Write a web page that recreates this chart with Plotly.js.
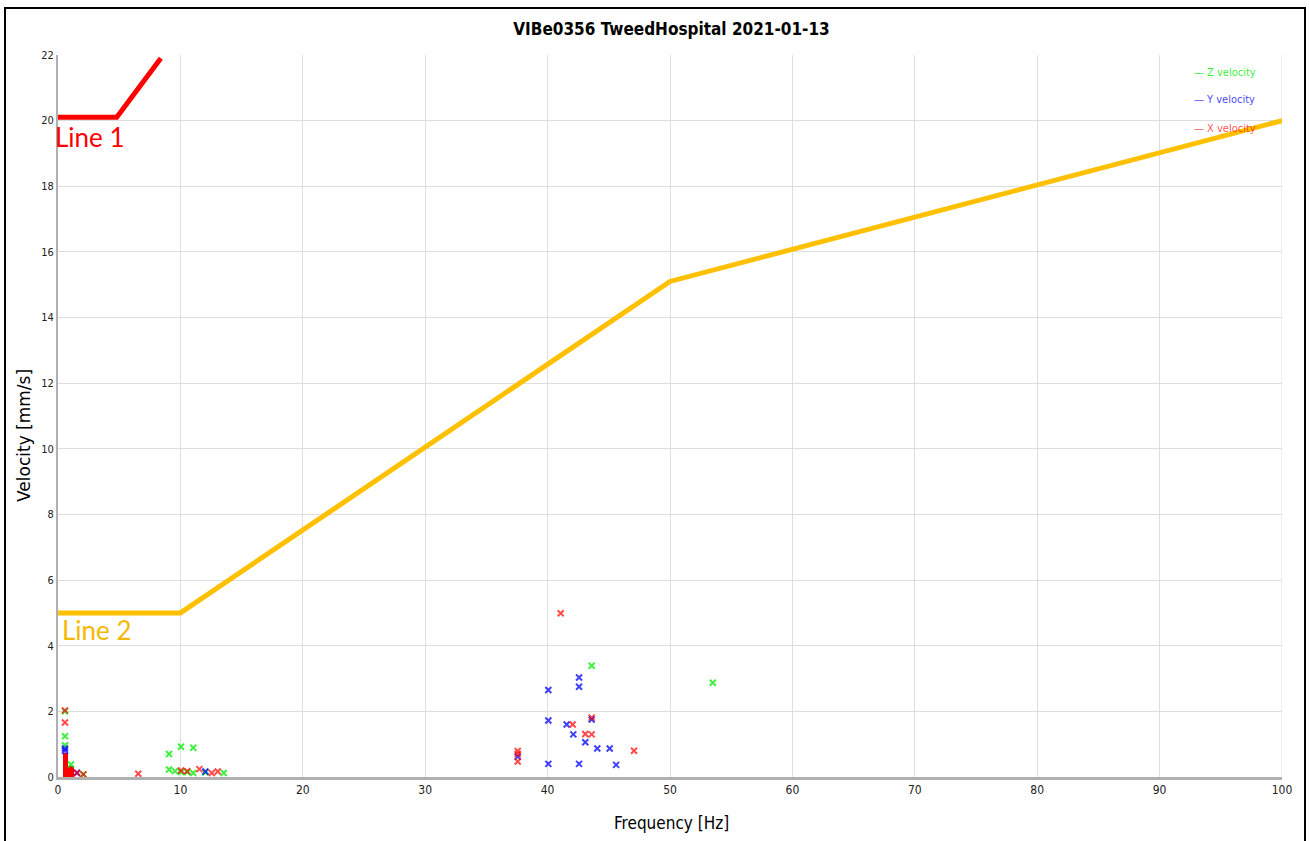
<!DOCTYPE html>
<html>
<head>
<meta charset="utf-8">
<script src="https://cdn.plot.ly/plotly-3.0.1.min.js"></script>
<style>
html,body{margin:0;padding:0;background:#fff;}
#chart{width:1309px;height:841px;}
#frame{position:absolute;left:4px;top:7px;width:1298px;height:900px;border:2px solid #000;pointer-events:none;}
</style>
</head>
<body>
<div id="chart"></div>
<div id="frame"></div>
<script>
// Z velocity (green)
const zX = [0.57, 0.57, 0.57, 1.06, 2.07, 9.07, 9.07, 9.56, 10.05, 10.05, 10.56, 11.05, 11.05, 12.04, 13.54, 43.6, 53.5];
const zY = [2.0, 1.24, 0.97, 0.38, 0.08, 0.70, 0.23, 0.18, 0.92, 0.15, 0.15, 0.89, 0.12, 0.14, 0.12, 3.39, 2.87];
// Y velocity (blue)
const yX = [0.57, 0.57, 1.55, 12.04, 37.56, 40.06, 40.06, 40.06, 41.56, 42.1, 42.57, 42.57, 42.57, 43.08, 43.6, 44.06, 45.07, 45.6];
const yY = [0.87, 0.80, 0.13, 0.17, 0.62, 2.65, 1.72, 0.40, 1.6, 1.30, 3.03, 2.75, 0.40, 1.06, 1.75, 0.87, 0.87, 0.37];
// X velocity (red)
const xX = [0.57, 0.57, 1.55, 2.07, 6.56, 10.05, 10.56, 11.55, 12.56, 13.05, 37.56, 37.56, 37.56, 41.07, 42.05, 43.08, 43.6, 43.6, 47.06];
const xY = [2.03, 1.66, 0.12, 0.08, 0.1, 0.2, 0.18, 0.24, 0.12, 0.17, 0.79, 0.70, 0.47, 4.99, 1.6, 1.31, 1.30, 1.81, 0.80];
// X velocity filled bars near 0 Hz
const barX = [0.6, 1.07];
const barY = [0.73, 0.33];
// Limit lines
const line1X = [0, 4.8, 8.4];
const line1Y = [20.1, 20.1, 21.9];
const line2X = [0, 10, 50, 100];
const line2Y = [5, 5, 15.1, 20];
const xTicks = [0, 10, 20, 30, 40, 50, 60, 70, 80, 90, 100];
const yTicks = [0, 2, 4, 6, 8, 10, 12, 14, 16, 18, 20, 22];

const cond = '"DejaVu Sans Condensed", "DejaVu Sans", sans-serif';

const mk = (c) => ({symbol:'x-thin-open', size:6, color:c, line:{color:c, width:2}});

const traces = [
  {type:'bar', x:barX, y:barY, width:0.46, marker:{color:'rgb(255,0,0)', line:{width:0}}, showlegend:false, hoverinfo:'skip'},
  {type:'scatter', mode:'lines', x:line2X, y:line2Y, line:{color:'#ffc000', width:5}, showlegend:false},
  {type:'scatter', mode:'lines', x:line1X, y:line1Y, line:{color:'#ff0000', width:5}, showlegend:false},
  {type:'scatter', mode:'markers', x:zX, y:zY, name:'Z velocity', marker:mk('rgba(0,235,0,0.75)'), showlegend:false},
  {type:'scatter', mode:'markers', x:yX, y:yY, name:'Y velocity', marker:mk('rgba(0,0,255,0.75)'), showlegend:false},
  {type:'scatter', mode:'markers', x:xX, y:xY, name:'X velocity', marker:mk('rgba(255,0,0,0.7)'), showlegend:false}
];

const layout = {
  width:1309, height:841,
  margin:{l:58, r:27, t:55, b:64},
  paper_bgcolor:'#fff', plot_bgcolor:'#fff',
  bargap:0,
  title:{text:'<b>VIBe0356 TweedHospital 2021-01-13</b>', font:{family:cond, size:17, color:'#000'}, x:0.513, xanchor:'center', y:0.966, yanchor:'middle'},
  xaxis:{range:[0,100], tickvals:xTicks, ticktext:xTicks.map(String), showgrid:true, gridcolor:'#dedede', gridwidth:1,
    showline:true, linecolor:'#b0b0b0', linewidth:3, zeroline:false, ticks:'', ticklen:0,
    tickfont:{family:cond, size:12, color:'#222'}},
  yaxis:{range:[0,22], tickvals:yTicks, ticktext:yTicks.map(String), showgrid:true, gridcolor:'#dedede', gridwidth:1,
    showline:true, linecolor:'#b0b0b0', linewidth:2, zeroline:false, ticks:'', ticklen:0,
    tickfont:{family:cond, size:11, color:'#222'}},
  shapes:[
    {type:'line', xref:'x', yref:'y', x0:100, x1:100, y0:0, y1:22, line:{color:'#dedede', width:1}, layer:'below'}
  ],
  annotations:[
    {xref:'paper', yref:'paper', x:(671-58)/1224, y:(777-823)/722, xanchor:'center', yanchor:'middle', showarrow:false, text:'Frequency [Hz]', font:{family:cond, size:17, color:'#000'}},
    {xref:'paper', yref:'paper', x:(24-58)/1224, y:(777-436)/722, xanchor:'center', yanchor:'middle', textangle:-90, showarrow:false, text:'Velocity [mm/s]', font:{family:'"DejaVu Sans", sans-serif', size:17, color:'#000'}},
    {xref:'paper', yref:'paper', x:(1192-58)/1224, y:(777-72)/722, xanchor:'left', yanchor:'middle', showarrow:false, text:'— Z velocity', font:{family:cond, size:11, color:'rgba(0,235,0,0.8)'}},
    {xref:'paper', yref:'paper', x:(1192-58)/1224, y:(777-100)/722, xanchor:'left', yanchor:'middle', showarrow:false, text:'— Y velocity', font:{family:cond, size:11, color:'rgba(0,0,255,0.75)'}},
    {xref:'paper', yref:'paper', x:(1192-58)/1224, y:(777-128)/722, xanchor:'left', yanchor:'middle', showarrow:false, text:'— X velocity', font:{family:cond, size:11, color:'rgba(255,0,0,0.7)'}},
    {xref:'paper', yref:'paper', x:-0.004, y:(777-137)/722, xanchor:'left', yanchor:'middle', showarrow:false, text:'Line 1', font:{family:'Lato, "Open Sans", sans-serif', size:26, color:'#ff0000'}},
    {xref:'paper', yref:'paper', x:0.002, y:(777-630)/722, xanchor:'left', yanchor:'middle', showarrow:false, text:'Line 2', font:{family:'Lato, "Open Sans", sans-serif', size:26, color:'#f5b800'}}
  ]
};

Plotly.newPlot('chart', traces, layout, {displayModeBar:false, staticPlot:true});
</script>
</body>
</html>
